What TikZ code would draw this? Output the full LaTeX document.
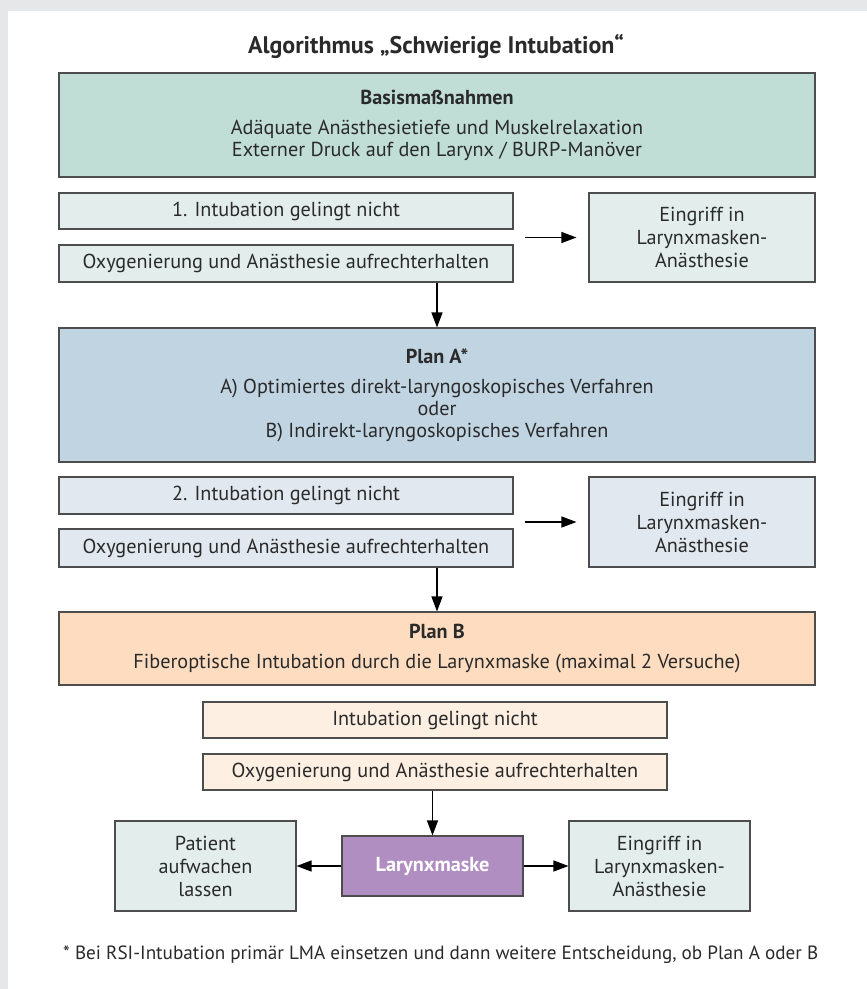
\documentclass[tikz,border=0pt]{standalone}
\usepackage{fontspec}
\setmainfont{PT Sans}
\usetikzlibrary{arrows.meta}
\definecolor{bggray}{HTML}{E6E7E8}
\definecolor{txt}{HTML}{2A2A2A}
\definecolor{edge}{HTML}{4D4D4D}
\definecolor{tealA}{HTML}{C0DDD6}
\definecolor{tealB}{HTML}{E3EEEC}
\definecolor{blueA}{HTML}{C1D4E2}
\definecolor{blueB}{HTML}{E1E8F0}
\definecolor{peachA}{HTML}{FDDCC0}
\definecolor{peachB}{HTML}{FDEFE2}
\definecolor{lila}{HTML}{B08EC2}
\newlength\mylen
\AtBeginDocument{%
\settowidth\mylen{\fontsize{10}{12}\selectfont 1. Intubation gelingt nicht}%
\pgfmathsetmacro\bsz{10*228/\mylen}%
\global\let\bsz\bsz
\settowidth\mylen{\fontsize{10}{12}\selectfont\bfseries Algorithmus „Schwierige Intubation“}%
\pgfmathsetmacro\tsz{10*376/\mylen}%
\global\let\tsz\tsz
\settowidth\mylen{\fontsize{10}{12}\selectfont * Bei RSI-Intubation primär LMA einsetzen und dann weitere Entscheidung, ob Plan A oder B}%
\pgfmathsetmacro\fsz{10*755/\mylen}%
\global\let\fsz\fsz
}
\begin{document}
\begin{tikzpicture}[x=1pt,y=-1pt]
\tikzset{
  box/.style={draw=edge, line width=1.1pt, inner sep=0pt, align=center, text=txt,
    font=\fontsize{\bsz}{22}\selectfont},
  arr/.style={draw=black, line width=1.2pt, -{Triangle[length=15pt,width=11pt]}},
}
\useasboundingbox (0,0) rectangle (867,989);
\fill[bggray] (0,0) rectangle (867,989);
\fill[white] (8,11) rectangle (867,989);

\node[text=txt, font=\fontsize{\tsz}{\tsz}\selectfont\bfseries] (title) at (436,46) {Algorithmus „Schwierige Intubation“};

\node[box, fill=tealA, minimum width=756pt, minimum height=104pt] (basis) at (437,125)
  {\textbf{Basismaßnahmen}\\[8pt] Adäquate Anästhesietiefe und Muskelrelaxation\\ Externer Druck auf den Larynx / BURP-Manöver};
\node[box, fill=tealB, minimum width=454pt, minimum height=36pt] (int1) at (286,211) {1. Intubation gelingt nicht};
\node[box, fill=tealB, minimum width=454pt, minimum height=37pt] (oxy1) at (286,263.5) {Oxygenierung und Anästhesie aufrechterhalten};
\node[box, fill=tealB, minimum width=226pt, minimum height=89pt, font=\fontsize{\bsz}{23}\selectfont] (ein1) at (702,237.5) {Eingriff in\\Larynxmasken-\\Anästhesie};

\node[box, fill=blueA, minimum width=756pt, minimum height=134pt] (planA) at (437,395)
  {\textbf{Plan A*}\\[8pt] A) Optimiertes direkt-laryngoskopisches Verfahren\\ oder\\ B) Indirekt-laryngoskopisches Verfahren};
\node[box, fill=blueB, minimum width=454pt, minimum height=37pt] (int2) at (286,495.5) {2. Intubation gelingt nicht};
\node[box, fill=blueB, minimum width=454pt, minimum height=38pt] (oxy2) at (286,548) {Oxygenierung und Anästhesie aufrechterhalten};
\node[box, fill=blueB, minimum width=226pt, minimum height=90pt, font=\fontsize{\bsz}{23}\selectfont] (ein2) at (702,522) {Eingriff in\\Larynxmasken-\\Anästhesie};

\node[box, fill=peachA, minimum width=756pt, minimum height=73pt] (planB) at (437,648.5)
  {\textbf{Plan B}\\[8pt] Fiberoptische Intubation durch die Larynxmaske (maximal 2 Versuche)};
\node[box, fill=peachB, minimum width=464pt, minimum height=36pt] (int3) at (435,720) {Intubation gelingt nicht};
\node[box, fill=peachB, minimum width=464pt, minimum height=36pt] (oxy3) at (435,772) {Oxygenierung und Anästhesie aufrechterhalten};

\node[box, fill=lila, text=white, minimum width=181pt, minimum height=60pt, font=\fontsize{\bsz}{22}\selectfont\bfseries] (laryn) at (432.5,866) {Larynxmaske};
\node[box, fill=tealB, minimum width=181pt, minimum height=90pt, font=\fontsize{\bsz}{23}\selectfont] (patient) at (205.5,866) {Patient\\aufwachen\\lassen};
\node[box, fill=tealB, minimum width=181pt, minimum height=90pt, font=\fontsize{\bsz}{23}\selectfont] (ein3) at (659.5,866) {Eingriff in\\Larynxmasken-\\Anästhesie};

\node[anchor=west, inner sep=0pt, text=txt, font=\fontsize{\fsz}{\fsz}\selectfont] (foot) at (63,955)
  {* Bei RSI-Intubation primär LMA einsetzen und dann weitere Entscheidung, ob Plan A oder B};

\draw[arr, shorten <=11pt, shorten >=12pt] (int1.east |- ein1.west) -- (ein1.west);
\draw[arr, shorten <=11pt, shorten >=12pt] (int2.east |- ein2.west) -- (ein2.west);
\draw[arr] (oxy1.south -| planA.north) -- (planA.north);
\draw[arr] (oxy2.south -| planB.north) -- (planB.north);
\draw[arr] (oxy3.south -| laryn.north) -- (laryn.north);
\draw[arr] (laryn.west) -- (patient.east);
\draw[arr] (laryn.east) -- (ein3.west);
\end{tikzpicture}
\end{document}
